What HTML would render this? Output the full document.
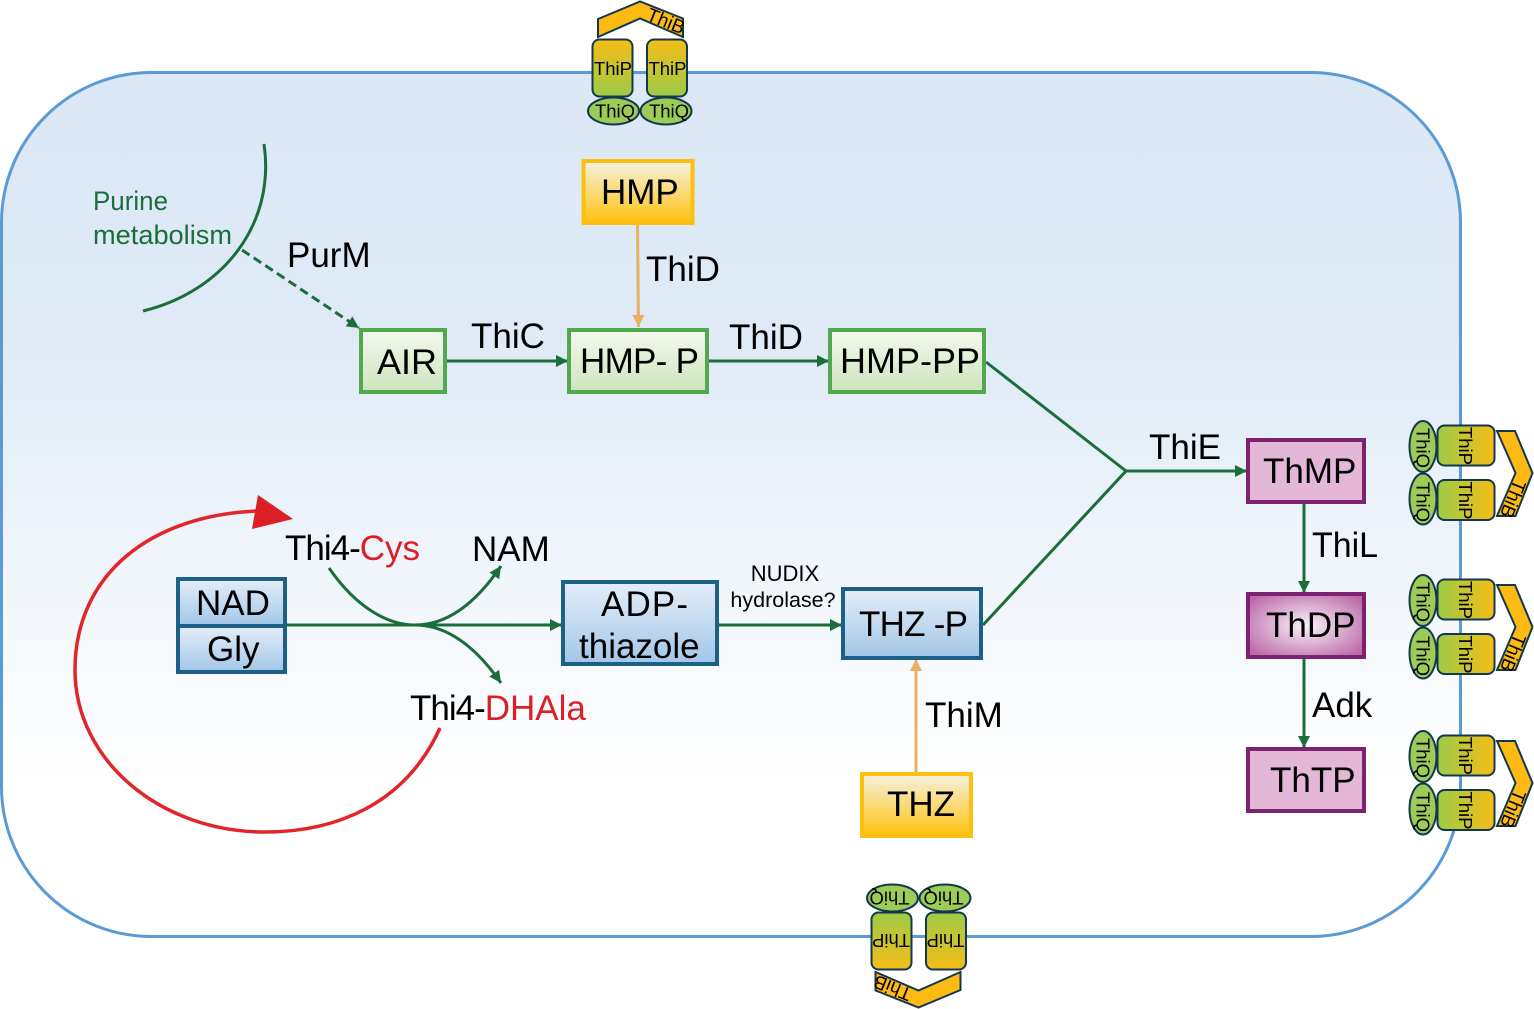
<!DOCTYPE html>
<html><head><meta charset="utf-8"><style>
html,body{margin:0;padding:0;background:#fff}
svg{display:block}
text{font-family:"Liberation Sans",sans-serif;fill:#000}
</style></head><body>
<svg width="1534" height="1009" viewBox="0 0 1534 1009" xmlns="http://www.w3.org/2000/svg">
<defs>
<linearGradient id="cell" x1="0" y1="0" x2="0" y2="1"><stop offset="0" stop-color="#dbe8f5"/><stop offset=".3" stop-color="#dfeaf6"/><stop offset=".82" stop-color="#fff"/><stop offset="1" stop-color="#fff"/></linearGradient>
<linearGradient id="gr" x1="0" y1="0" x2="0" y2="1"><stop offset="0" stop-color="#f4f9ee"/><stop offset="1" stop-color="#cde4bd"/></linearGradient>
<linearGradient id="ye" x1="0" y1="0" x2="0" y2="1"><stop offset="0" stop-color="#f5f2e0"/><stop offset="1" stop-color="#ffc20e"/></linearGradient>
<linearGradient id="bl" x1="0" y1="0" x2="0" y2="1"><stop offset="0" stop-color="#e4eef8"/><stop offset="1" stop-color="#a2c6e8"/></linearGradient>
<radialGradient id="pk" cx=".5" cy=".5" r=".62"><stop offset="0" stop-color="#fbf2f8"/><stop offset="1" stop-color="#bb6aa8"/></radialGradient>
<linearGradient id="tp" x1="0" y1="0" x2="0" y2="1"><stop offset="0" stop-color="#f6bd16"/><stop offset="1" stop-color="#9ccb48"/></linearGradient>
<marker id="ag" markerUnits="userSpaceOnUse" markerWidth="13" markerHeight="13" refX="12" refY="6.500" orient="auto"><path d="M0,0.500L12,6.500L0,12.500Z" fill="#1b6e3c"/></marker>
<marker id="ao" markerUnits="userSpaceOnUse" markerWidth="13" markerHeight="13" refX="12" refY="6.500" orient="auto"><path d="M0,0.500L12,6.500L0,12.500Z" fill="#e9b061"/></marker>
<g id="tr">
<path d="M598,19L640,1.500L683,18.500L683,37L640,18.500L598,37Z" fill="#fdba12" stroke="#12384f" stroke-width="2"/>
<rect x="592.500" y="39.500" width="40" height="57" rx="7" fill="url(#tp)" stroke="#12384f" stroke-width="2"/>
<rect x="647" y="39.500" width="40" height="57" rx="7" fill="url(#tp)" stroke="#12384f" stroke-width="2"/>
<ellipse cx="613.500" cy="111" rx="25.500" ry="13.500" fill="#9ccb58" stroke="#12384f" stroke-width="2"/>
<ellipse cx="666" cy="111" rx="25.500" ry="13.500" fill="#9ccb58" stroke="#12384f" stroke-width="2"/>
<text x="613" y="75" font-size="18.500" text-anchor="middle">ThiP</text>
<text x="667.500" y="75" font-size="18.500" text-anchor="middle">ThiP</text>
<text x="615" y="117.500" font-size="18.500" text-anchor="middle">ThiQ</text>
<text x="669" y="117.500" font-size="18.500" text-anchor="middle">ThiQ</text>
<text font-size="19" text-anchor="middle" transform="translate(663.500,27) rotate(22)">ThiB</text>
</g>
</defs>

<rect x="1.500" y="72.500" width="1459" height="864" rx="150" ry="150" fill="url(#cell)" stroke="#5b9bd5" stroke-width="3"/>

<use href="#tr"/>
<use href="#tr" transform="translate(1558.500,1009) rotate(180)"/>
<use href="#tr" transform="translate(1534,-167) rotate(90)"/>
<use href="#tr" transform="translate(1534,-13) rotate(90)"/>
<use href="#tr" transform="translate(1534,143) rotate(90)"/>

<!-- green connectors -->
<g fill="none" stroke="#1b6e3c" stroke-width="3">
<path d="M264,144C276,225 222,292 143,311"/>
<path d="M242,250L359,328" stroke-dasharray="9 5" marker-end="url(#ag)"/>
<path d="M447,361H568" marker-end="url(#ag)"/>
<path d="M708,361H829" marker-end="url(#ag)"/>
<path d="M986,362L1126,471L983,625"/>
<path d="M1126,471H1247" marker-end="url(#ag)"/>
<path d="M1304,503V593" marker-end="url(#ag)"/>
<path d="M1304,658V748" marker-end="url(#ag)"/>
<path d="M286,625H562" marker-end="url(#ag)"/>
<path d="M719,625H842" marker-end="url(#ag)"/>
<path d="M329,568C358,610 390,625 415,625C450,625 478,600 501,566" marker-end="url(#ag)"/>
<path d="M415,625C450,625 478,650 501,683" marker-end="url(#ag)"/>
</g>
<!-- orange connectors -->
<g fill="none" stroke="#e9b061" stroke-width="3">
<path d="M637.500,224L638.500,327" marker-end="url(#ao)"/>
<path d="M916,773V659" marker-end="url(#ao)"/>
</g>
<!-- red cycle -->
<path d="M440,728C405,805 335,832 265,832C160,832 75,760 75,670C75,575 150,515 258,511" fill="none" stroke="#e12528" stroke-width="3.500"/>
<path d="M258,495L293,519L252,529Z" fill="#dc1f26"/>

<!-- boxes -->
<g stroke-width="4">
<rect x="361" y="330" width="84" height="62" fill="url(#gr)" stroke="#52a84e"/>
<rect x="569" y="330" width="138" height="62" fill="url(#gr)" stroke="#52a84e"/>
<rect x="830" y="330" width="154" height="62" fill="url(#gr)" stroke="#52a84e"/>
<rect x="583.500" y="161" width="109" height="62" fill="url(#ye)" stroke="#fdc010"/>
<rect x="862" y="774" width="109" height="62" fill="url(#ye)" stroke="#fdc010"/>
<rect x="563" y="582" width="154" height="82" fill="url(#bl)" stroke="#1b6086"/>
<rect x="843" y="589" width="138" height="69" fill="url(#bl)" stroke="#1b6086"/>
<rect x="178" y="579" width="107" height="47" fill="url(#bl)" stroke="#1b6086"/>
<rect x="178" y="626" width="107" height="46" fill="url(#bl)" stroke="#1b6086"/>
<rect x="1248" y="440" width="116" height="62" fill="#e4b7d6" stroke="#7c2270"/>
<rect x="1248" y="594" width="116" height="63" fill="url(#pk)" stroke="#7c2270"/>
<rect x="1248" y="749" width="116" height="62" fill="#e4b7d6" stroke="#7c2270"/>
</g>

<!-- labels -->
<g font-size="35">
<text x="377" y="374" textLength="60" lengthAdjust="spacingAndGlyphs">AIR</text>
<text x="580" y="373" textLength="119" lengthAdjust="spacing">HMP- P</text>
<text x="840" y="373" textLength="140" lengthAdjust="spacingAndGlyphs">HMP-PP</text>
<text x="601" y="204">HMP</text>
<text x="601" y="616" textLength="87" lengthAdjust="spacing">ADP-</text>
<text x="579" y="658">thiazole</text>
<text x="859" y="636" textLength="109" lengthAdjust="spacing">THZ -P</text>
<text x="887" y="816">THZ</text>
<text x="196" y="615">NAD</text>
<text x="207" y="661">Gly</text>
<text x="1263" y="483">ThMP</text>
<text x="1266" y="637">ThDP</text>
<text x="1270" y="792">ThTP</text>
<text x="287" y="267">PurM</text>
<text x="646" y="281">ThiD</text>
<text x="471" y="348">ThiC</text>
<text x="729" y="349">ThiD</text>
<text x="1149" y="459">ThiE</text>
<text x="1312" y="557" textLength="66" lengthAdjust="spacingAndGlyphs">ThiL</text>
<text x="1312" y="717">Adk</text>
<text x="925" y="727">ThiM</text>
<text x="472" y="561">NAM</text>
<text x="285" y="560" letter-spacing="-1">Thi4-<tspan fill="#dc1f26" letter-spacing="0">Cys</tspan></text>
<text x="410" y="720" letter-spacing="-1">Thi4-<tspan fill="#dc1f26" letter-spacing="0">DHAla</tspan></text>
</g>
<text x="93" y="210" font-size="27" style="fill:#1b6e3c" textLength="75" lengthAdjust="spacingAndGlyphs">Purine</text>
<text x="93" y="244" font-size="27" style="fill:#1b6e3c" textLength="139" lengthAdjust="spacingAndGlyphs">metabolism</text>
<text x="785" y="581" font-size="22" text-anchor="middle">NUDIX</text>
<text x="783" y="607" font-size="21.500" text-anchor="middle">hydrolase?</text>
</svg>
</body></html>
